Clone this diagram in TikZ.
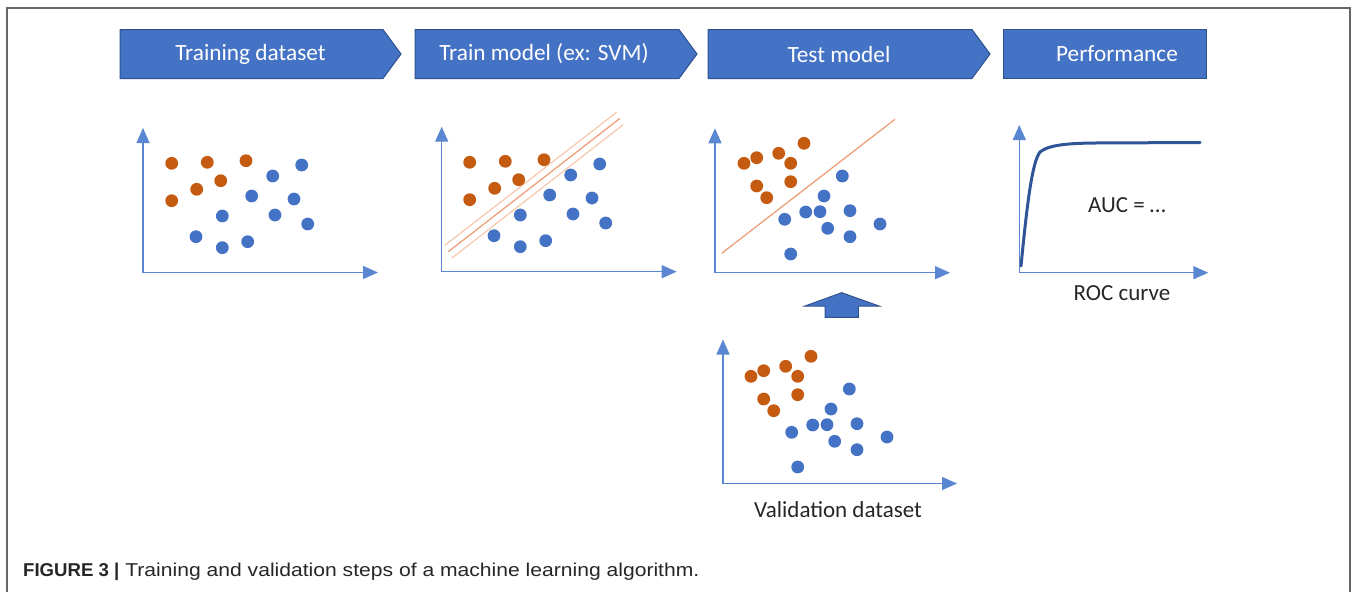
\documentclass[tikz,border=0pt]{standalone}
\usepackage{fontspec}
\usepackage{graphicx}
\setmainfont{Carlito}
\newfontfamily\capfont{Liberation Sans}
\usetikzlibrary{arrows.meta}
\definecolor{pblue}{HTML}{4472C4}
\definecolor{pbluedark}{HTML}{2F528F}
\definecolor{porange}{HTML}{C55A11}
\definecolor{axisblue}{HTML}{5B87D2}
\definecolor{svmmid}{HTML}{EDA07A}
\definecolor{svmout}{HTML}{F6C4A4}
\definecolor{rocblue}{HTML}{2F5597}
\definecolor{framegray}{HTML}{666666}
\tikzset{
  banner/.style={fill=pblue, draw=pbluedark, line width=1pt},
  btext/.style={text=white, font=\fontsize{23.3}{28}\selectfont, inner sep=0pt},
  ltext/.style={text=black!85, font=\fontsize{23}{28}\selectfont, inner sep=0pt},
  axis/.style={draw=axisblue, line width=1.4pt, -{Triangle[length=15pt,width=13pt]}},
  odot/.style={fill=porange},
  bdot/.style={fill=pblue},
  svmc/.style={draw=svmmid, line width=1.3pt},
  svmo/.style={draw=svmout, line width=1.1pt},
  roc/.style={draw=rocblue, line width=3pt, line cap=round},
  bigarrow/.style={fill=pblue, draw=pbluedark, line width=1pt, line join=miter},
  frameline/.style={draw=framegray, line width=1.5pt}
}
\newcommand{\dotr}{6.4}
\newcommand{\trainset}{%
  \foreach \p in {(171.7,163.3),(207.3,162.3),(246,160.7),(220.7,180.7),(196.7,189.3),(171.7,200.7)}
    \fill[odot] \p circle[radius=\dotr];
  \foreach \p in {(301.7,165),(272.7,176),(251.7,196),(294,199),(222.3,216),(275,215),(307.7,224),(196,236.7),(222.3,247.7),(247.7,241.7)}
    \fill[bdot] \p circle[radius=\dotr];
}
\newcommand{\testset}{%
  \foreach \p in {(804,143.3),(744,163.3),(756.7,157.7),(778.7,153.3),(790.7,163.3),(756.7,186),(790.7,181.7),(766.7,197.7)}
    \fill[odot] \p circle[radius=\dotr];
  \foreach \p in {(842.3,176),(824,196),(805.7,212),(820,211.7),(850,210.7),(784.7,219.3),(827.7,228.3),(880,224),(850,236.7),(790.7,254)}
    \fill[bdot] \p circle[radius=\dotr];
}
\begin{document}
\begin{tikzpicture}[x=1pt,y=-1pt]
\useasboundingbox (0,0) rectangle (1358,592);
% frame
\draw[frameline] (7,592) -- (7,8) -- (1350,8) -- (1350,592);

% banners
\path[banner] (120,29.5) -- (383,29.5) -- (401,54) -- (383,78.5) -- (120,78.5) -- cycle;
\path[banner] (415,29.5) -- (679,29.5) -- (697,54) -- (679,78.5) -- (415,78.5) -- cycle;
\path[banner] (708,29.5) -- (972,29.5) -- (990,54) -- (972,78.5) -- (708,78.5) -- cycle;
\path[banner] (1003,29.5) rectangle (1206,78.5);
\node[btext] (b1) at (250.5,54) {Training dataset};
\node[btext] (b2) at (544,54) {Train model (ex: SVM)};
\node[btext] (b3) at (839,54) {Test model};
\node[btext] (b4) at (1117,54) {Performance};

% plot 1: training dataset
\coordinate (o1) at (143,272.5);
\coordinate (y1) at (143,128);
\coordinate (x1) at (378,272.5);
\draw[axis] (o1) -- (y1);
\draw[axis] (o1) -- (x1);
\trainset

% plot 2: train model
\coordinate (o2) at (441.7,271.7);
\coordinate (y2) at (441.7,126.7);
\coordinate (x2) at (676.7,271.7);
\draw[svmo] (445,245.2) -- (616.7,112.2);
\draw[svmc] (448.3,251.7) -- (620,118.3);
\draw[svmo] (451.7,258.2) -- (623.3,124.6);
\draw[axis] (o2) -- (y2);
\draw[axis] (o2) -- (x2);
\begin{scope}[shift={(298,-1)}]
\trainset
\end{scope}

% plot 3: test model
\coordinate (o3) at (715,272.7);
\coordinate (y3) at (715,128.3);
\coordinate (x3) at (950,272.7);
\draw[svmc] (721.7,253.3) -- (895,119.3);
\draw[axis] (o3) -- (y3);
\draw[axis] (o3) -- (x3);
\testset

% up arrow
\path[bigarrow] (825,317.3) -- (825,306) -- (805,306) -- (841.7,292.7) -- (879,306) -- (858.3,306) -- (858.3,317.3) -- cycle;

% validation plot
\coordinate (o4) at (723,483.5);
\coordinate (y4) at (723,339.5);
\coordinate (x4) at (957,483.5);
\draw[axis] (o4) -- (y4);
\draw[axis] (o4) -- (x4);
\begin{scope}[shift={(7,213)}]
\testset
\end{scope}
\node[ltext] (vlab) at (838,510) {Validation dataset};

% ROC
\coordinate (o5) at (1019.3,272.7);
\coordinate (y5) at (1019.3,125);
\coordinate (x5) at (1208.3,272.7);
\draw[axis] (o5) -- (y5);
\draw[axis] (o5) -- (x5);
\coordinate (r0) at (1021,266);
\coordinate (r1) at (1040,152);
\coordinate (r2) at (1095,143);
\coordinate (r3) at (1200,142.5);
\draw[roc] (r0) .. controls (1027,205) and (1032,162) .. (r1) .. controls (1049,144.5) and (1070,143.3) .. (r2) -- (r3);
\node[ltext] (auc) at (1127,205) {AUC = …};
\node[ltext] (roclab) at (1122,293) {ROC curve};

% caption
\node[anchor=base west, inner sep=0pt, font=\capfont\fontsize{18.6}{22}\selectfont, text=black!85] (cap) at (23,576)
  {\textbf{FIGURE 3 |}\hspace{6pt}\resizebox{574pt}{\height}{Training and validation steps of a machine learning algorithm.}};
\end{tikzpicture}
\end{document}
